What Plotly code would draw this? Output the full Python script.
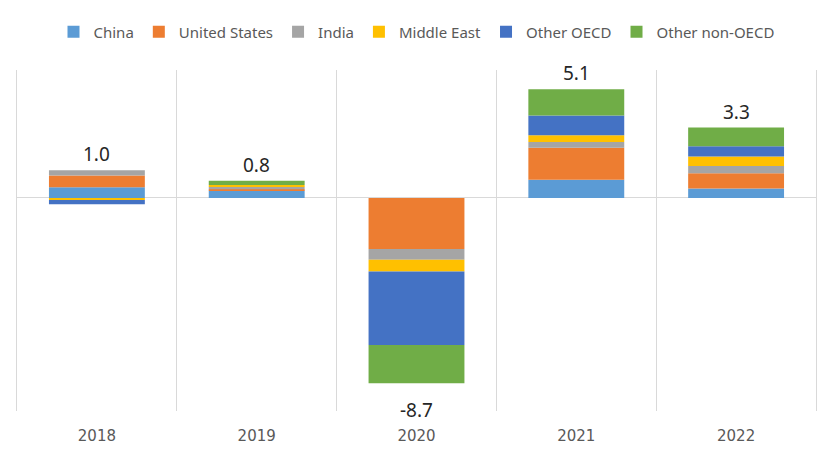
import plotly.graph_objects as go

years = ["2018", "2019", "2020", "2021", "2022"]
china = [0.50, 0.35, 0.00, 0.85, 0.44]
united_states = [0.55, 0.05, -2.40, 1.50, 0.71]
india = [0.25, 0.12, -0.50, 0.27, 0.35]
middle_east = [-0.10, 0.08, -0.55, 0.32, 0.44]
other_oecd = [-0.20, 0.00, -3.45, 0.92, 0.48]
other_non_oecd = [0.00, 0.20, -1.80, 1.24, 0.88]

series = [
    ("China", china, "#5B9BD5"),
    ("United States", united_states, "#ED7D31"),
    ("India", india, "#A5A5A5"),
    ("Middle East", middle_east, "#FFC000"),
    ("Other OECD", other_oecd, "#4472C4"),
    ("Other non-OECD", other_non_oecd, "#70AD47"),
]

xs = list(range(len(years)))
fig = go.Figure()
for name, vals, color in series:
    fig.add_trace(go.Bar(x=xs, y=vals, name=name, marker_color=color,
                         marker_line_width=0))

for i in xs:
    vals = [s[1][i] for s in series]
    total = sum(vals)
    pos = sum(v for v in vals if v > 0)
    neg = sum(v for v in vals if v < 0)
    if total >= 0:
        fig.add_annotation(x=i, y=pos, text=f"{total:.1f}", showarrow=False,
                           yanchor="bottom", yshift=1,
                           font=dict(family="Noto Sans", size=19, color="#262626"))
    else:
        fig.add_annotation(x=i, y=neg, text=f"{total:.1f}", showarrow=False,
                           yanchor="top", yshift=-12,
                           font=dict(family="Noto Sans", size=19, color="#262626"))

fig.update_layout(
    width=831, height=449,
    margin=dict(l=17, r=15, t=70, b=38),
    barmode="relative", bargap=0.4,
    paper_bgcolor="white", plot_bgcolor="white",
    showlegend=True,
    legend=dict(orientation="h", x=0.5, xanchor="center",
                yref="container", y=1 - 32 / 449, yanchor="middle",
                font=dict(family="Noto Sans", size=15, color="#595959"),
                itemwidth=30, traceorder="normal"),
    xaxis=dict(range=[-0.5, 4.5], tickmode="array", tickvals=xs, ticktext=years,
               showgrid=False, zeroline=False, showline=False, ticks="",
               ticklabelstandoff=14, automargin=False,
               tickfont=dict(family="DejaVu Sans", size=15, color="#595959"),
               minor=dict(tickmode="array", tickvals=[0.5, 1.5, 2.5, 3.5],
                          showgrid=True, gridcolor="#D9D9D9", gridwidth=1, ticks="")),
    yaxis=dict(range=[-10, 6], showgrid=False, showticklabels=False,
               showline=True, mirror=True, linecolor="#D9D9D9", linewidth=1,
               ticks="", automargin=False,
               zeroline=True, zerolinecolor="#D9D9D9", zerolinewidth=1),
)

fig.write_html("out.html", config={"displayModeBar": False},
               post_script="document.body.style.margin='0';document.body.style.overflow='hidden';")
